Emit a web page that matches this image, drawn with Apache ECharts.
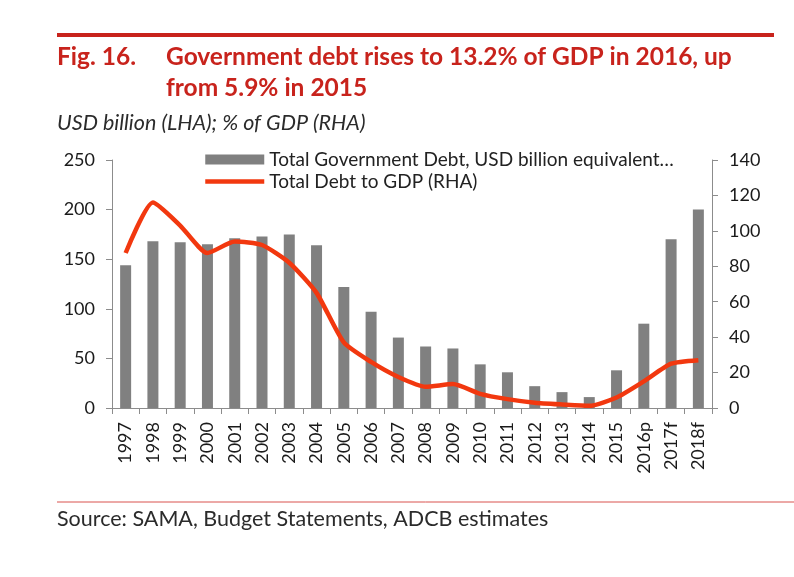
<!DOCTYPE html>
<html>
<head>
<meta charset="utf-8">
<script src="https://cdn.jsdelivr.net/npm/echarts@6/dist/echarts.min.js"></script>
<style>
  html, body { margin: 0; padding: 0; background: #fff; }
  #main { width: 794px; height: 577px; }
</style>
</head>
<body>
<div id="main"></div>
<script>
// data
const years = ['1997', '1998', '1999', '2000', '2001', '2002', '2003', '2004', '2005', '2006', '2007',
    '2008', '2009', '2010', '2011', '2012', '2013', '2014', '2015', '2016p', '2017f', '2018f']
const debtUsd = [144, 168, 167, 165, 171, 173, 175, 164, 122, 97, 71, 62, 60, 44, 36, 22, 16, 11, 38, 85, 170, 200]
const debtToGdp = [87.5, 116, 103, 87.5, 94, 92, 82, 65, 37, 26, 17.5, 12, 13.5, 8, 5, 3, 2, 1.2, 5.9, 15, 25, 27]

const FONT = 'Lato'
const RED = '#c8231c'
const AXIS = '#8c8c8c'

let chart = echarts.init(document.getElementById('main'))

let option = {
    animation: false,
    textStyle: { fontFamily: FONT },
    graphic: [
        { type: 'line', shape: { x1: 57, y1: 35, x2: 774, y2: 35 }, style: { stroke: RED, lineWidth: 4 } },
        { type: 'text', left: 57, top: 45, style: { text: 'Fig. 16.', font: 'bold 24.5px ' + FONT, fill: RED } },
        { type: 'text', left: 166, top: 45, style: { text: 'Government debt rises to 13.2% of GDP in 2016, up', font: 'bold 24.5px ' + FONT, fill: RED } },
        { type: 'text', left: 166, top: 76, style: { text: 'from 5.9% in 2015', font: 'bold 24.5px ' + FONT, fill: RED } },
        { type: 'text', left: 57, top: 112, style: { text: 'USD billion (LHA); % of GDP (RHA)', font: 'italic 21.5px ' + FONT, fill: '#2b2b2b' } },
        { type: 'line', shape: { x1: 57, y1: 502, x2: 794, y2: 502 }, style: { stroke: '#d9534f', lineWidth: 1 } },
        { type: 'text', left: 57, top: 508, style: { text: 'Source: SAMA, Budget Statements, ADCB estimates', font: '21.5px ' + FONT, fill: '#2b2b2b' } }
    ],
    legend: {
        orient: 'vertical',
        left: 198,
        top: 145,
        itemWidth: 59,
        itemHeight: 10,
        itemGap: 3,
        textStyle: { fontSize: 19, color: '#222', fontFamily: FONT },
        data: [
            { name: 'Total Government Debt, USD billion equivalent…', icon: 'rect' },
            { name: 'Total Debt to GDP (RHA)', itemStyle: { opacity: 0 }, lineStyle: { width: 4.5, color: '#f2380f' } }
        ]
    },
    grid: { left: 112, right: 82, top: 160, bottom: 169 },
    xAxis: {
        type: 'category',
        data: years,
        axisLine: { lineStyle: { color: AXIS } },
        axisTick: { show: true, interval: 0, length: 6, lineStyle: { color: AXIS } },
        axisLabel: { interval: 0, rotate: 90, fontSize: 18, color: '#1a1a1a', margin: 14 }
    },
    yAxis: [{
        type: 'value',
        min: 0, max: 250, interval: 50,
        splitLine: { show: false },
        axisLine: { show: true, lineStyle: { color: AXIS } },
        axisTick: { show: true, length: 6, lineStyle: { color: AXIS } },
        axisLabel: { fontSize: 18, color: '#1a1a1a', margin: 17 }
    }, {
        type: 'value',
        min: 0, max: 140, interval: 20,
        splitLine: { show: false },
        axisLine: { show: true, lineStyle: { color: AXIS } },
        axisTick: { show: true, length: 6, lineStyle: { color: AXIS } },
        axisLabel: { fontSize: 18, color: '#1a1a1a', margin: 17 }
    }],
    series: [{
        name: 'Total Government Debt, USD billion equivalent…',
        type: 'bar',
        data: debtUsd,
        barWidth: 11,
        itemStyle: { color: '#808080' }
    }, {
        name: 'Total Debt to GDP (RHA)',
        type: 'line',
        yAxisIndex: 1,
        data: debtToGdp,
        smooth: 0.2,
        symbol: 'none',
        lineStyle: { color: '#f2380f', width: 4.5 },
        itemStyle: { color: '#f2380f' }
    }]
}

chart.setOption(option)
</script>
</body>
</html>
